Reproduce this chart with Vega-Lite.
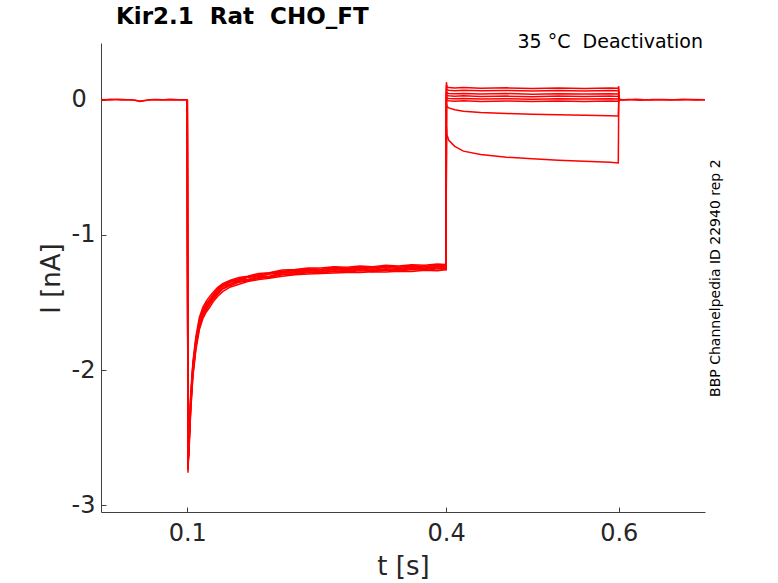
{
"$schema": "https://vega.github.io/schema/vega-lite/v6.json",
"width": 604, "height": 469,
"autosize": {"type": "none"},
"padding": {"left": 101, "top": 43, "right": 73, "bottom": 71},
"background": "white",
"config": {"view": {"stroke": null}, "font": "DejaVu Sans"},
"title": {"text": "Kir2.1\u00a0 Rat\u00a0 CHO_FT", "anchor": "start", "frame": "group", "dx": 15, "offset": -14, "baseline": "alphabetic", "fontSize": 23, "fontWeight": "bold", "color": "#000000", "font": "DejaVu Sans"},
"datasets": {
"traces": [
{"k":"p1","t":0,"i":0.002},{"k":"p1","t":0.01,"i":-0.001},{"k":"p1","t":0.02,"i":0.003},{"k":"p1","t":0.03,"i":0},{"k":"p1","t":0.04,"i":-0.004},{"k":"p1","t":0.045,"i":-0.012},{"k":"p1","t":0.05,"i":-0.005},{"k":"p1","t":0.06,"i":0.002},{"k":"p1","t":0.07,"i":-0.001},{"k":"p1","t":0.08,"i":0.003},{"k":"p1","t":0.09,"i":0},{"k":"p1","t":0.1,"i":0},
{"k":"p2","t":0,"i":-0.002},{"k":"p2","t":0.012,"i":0.003},{"k":"p2","t":0.025,"i":-0.001},{"k":"p2","t":0.035,"i":0.001},{"k":"p2","t":0.042,"i":-0.008},{"k":"p2","t":0.048,"i":-0.01},{"k":"p2","t":0.055,"i":-0.002},{"k":"p2","t":0.065,"i":0.002},{"k":"p2","t":0.075,"i":-0.002},{"k":"p2","t":0.085,"i":0.001},{"k":"p2","t":0.095,"i":-0.001},{"k":"p2","t":0.1,"i":0},
{"k":"q1","t":0.6005,"i":0.005},{"k":"q1","t":0.605,"i":-0.002},{"k":"q1","t":0.62,"i":0.003},{"k":"q1","t":0.635,"i":-0.002},{"k":"q1","t":0.65,"i":0.002},{"k":"q1","t":0.67,"i":-0.002},{"k":"q1","t":0.685,"i":0.002},{"k":"q1","t":0.7,"i":0},
{"k":"q2","t":0.6005,"i":-0.004},{"k":"q2","t":0.61,"i":0.002},{"k":"q2","t":0.625,"i":-0.003},{"k":"q2","t":0.64,"i":0.002},{"k":"q2","t":0.66,"i":-0.001},{"k":"q2","t":0.675,"i":0.003},{"k":"q2","t":0.69,"i":-0.002},{"k":"q2","t":0.7,"i":0.001},

{"k":"1","t":0.1,"i":0},{"k":"1","t":0.1008,"i":-2.76},{"k":"1","t":0.102,"i":-2.55},{"k":"1","t":0.104,"i":-2.25},{"k":"1","t":0.1065,"i":-2.0},{"k":"1","t":0.11,"i":-1.81},{"k":"1","t":0.114,"i":-1.66},{"k":"1","t":0.118,"i":-1.59},{"k":"1","t":0.122,"i":-1.53},{"k":"1","t":0.126,"i":-1.5},{"k":"1","t":0.13,"i":-1.46},{"k":"1","t":0.135,"i":-1.425},{"k":"1","t":0.141,"i":-1.38},{"k":"1","t":0.15,"i":-1.365},{"k":"1","t":0.16,"i":-1.335},{"k":"1","t":0.17,"i":-1.33},{"k":"1","t":0.183,"i":-1.305},{"k":"1","t":0.195,"i":-1.305},{"k":"1","t":0.21,"i":-1.28},{"k":"1","t":0.225,"i":-1.28},{"k":"1","t":0.24,"i":-1.265},{"k":"1","t":0.255,"i":-1.27},{"k":"1","t":0.27,"i":-1.255},{"k":"1","t":0.285,"i":-1.265},{"k":"1","t":0.3,"i":-1.25},{"k":"1","t":0.315,"i":-1.262},{"k":"1","t":0.33,"i":-1.25},{"k":"1","t":0.345,"i":-1.258},{"k":"1","t":0.36,"i":-1.242},{"k":"1","t":0.375,"i":-1.25},{"k":"1","t":0.39,"i":-1.236},{"k":"1","t":0.399,"i":-1.245},{"k":"1","t":0.4,"i":-1.245},
{"k":"1","t":0.4003,"i":0.13},{"k":"1","t":0.401,"i":0.095},{"k":"1","t":0.403,"i":0.09},{"k":"1","t":0.41,"i":0.087},{"k":"1","t":0.42,"i":0.09},{"k":"1","t":0.44,"i":0.085},{"k":"1","t":0.47,"i":0.088},{"k":"1","t":0.5,"i":0.083},{"k":"1","t":0.53,"i":0.087},{"k":"1","t":0.56,"i":0.084},{"k":"1","t":0.59,"i":0.087},{"k":"1","t":0.5995,"i":0.085},{"k":"1","t":0.6,"i":0.1},{"k":"1","t":0.6005,"i":0.004},

{"k":"2","t":0.1,"i":0},{"k":"2","t":0.1008,"i":-2.72},{"k":"2","t":0.102,"i":-2.5},{"k":"2","t":0.104,"i":-2.2},{"k":"2","t":0.1065,"i":-1.96},{"k":"2","t":0.11,"i":-1.77},{"k":"2","t":0.114,"i":-1.63},{"k":"2","t":0.118,"i":-1.555},{"k":"2","t":0.122,"i":-1.505},{"k":"2","t":0.126,"i":-1.475},{"k":"2","t":0.13,"i":-1.44},{"k":"2","t":0.135,"i":-1.405},{"k":"2","t":0.141,"i":-1.37},{"k":"2","t":0.15,"i":-1.345},{"k":"2","t":0.16,"i":-1.33},{"k":"2","t":0.17,"i":-1.31},{"k":"2","t":0.183,"i":-1.3},{"k":"2","t":0.195,"i":-1.29},{"k":"2","t":0.21,"i":-1.27},{"k":"2","t":0.225,"i":-1.265},{"k":"2","t":0.24,"i":-1.255},{"k":"2","t":0.255,"i":-1.255},{"k":"2","t":0.27,"i":-1.245},{"k":"2","t":0.285,"i":-1.25},{"k":"2","t":0.3,"i":-1.24},{"k":"2","t":0.315,"i":-1.245},{"k":"2","t":0.33,"i":-1.235},{"k":"2","t":0.345,"i":-1.24},{"k":"2","t":0.36,"i":-1.232},{"k":"2","t":0.375,"i":-1.235},{"k":"2","t":0.39,"i":-1.225},{"k":"2","t":0.399,"i":-1.228},{"k":"2","t":0.4,"i":-1.228},
{"k":"2","t":0.4003,"i":0.11},{"k":"2","t":0.401,"i":0.074},{"k":"2","t":0.403,"i":0.07},{"k":"2","t":0.41,"i":0.067},{"k":"2","t":0.42,"i":0.07},{"k":"2","t":0.44,"i":0.066},{"k":"2","t":0.47,"i":0.069},{"k":"2","t":0.5,"i":0.064},{"k":"2","t":0.53,"i":0.068},{"k":"2","t":0.56,"i":0.065},{"k":"2","t":0.59,"i":0.068},{"k":"2","t":0.5995,"i":0.066},{"k":"2","t":0.6,"i":0.08},{"k":"2","t":0.6005,"i":-0.002},

{"k":"3","t":0.1,"i":0},{"k":"3","t":0.1008,"i":-2.7},{"k":"3","t":0.102,"i":-2.58},{"k":"3","t":0.104,"i":-2.28},{"k":"3","t":0.1065,"i":-2.03},{"k":"3","t":0.11,"i":-1.83},{"k":"3","t":0.114,"i":-1.69},{"k":"3","t":0.118,"i":-1.6},{"k":"3","t":0.122,"i":-1.555},{"k":"3","t":0.126,"i":-1.515},{"k":"3","t":0.13,"i":-1.48},{"k":"3","t":0.135,"i":-1.44},{"k":"3","t":0.141,"i":-1.4},{"k":"3","t":0.15,"i":-1.375},{"k":"3","t":0.16,"i":-1.35},{"k":"3","t":0.17,"i":-1.34},{"k":"3","t":0.183,"i":-1.32},{"k":"3","t":0.195,"i":-1.315},{"k":"3","t":0.21,"i":-1.295},{"k":"3","t":0.225,"i":-1.29},{"k":"3","t":0.24,"i":-1.28},{"k":"3","t":0.255,"i":-1.28},{"k":"3","t":0.27,"i":-1.27},{"k":"3","t":0.285,"i":-1.275},{"k":"3","t":0.3,"i":-1.265},{"k":"3","t":0.315,"i":-1.27},{"k":"3","t":0.33,"i":-1.262},{"k":"3","t":0.345,"i":-1.268},{"k":"3","t":0.36,"i":-1.255},{"k":"3","t":0.375,"i":-1.262},{"k":"3","t":0.39,"i":-1.25},{"k":"3","t":0.399,"i":-1.255},{"k":"3","t":0.4,"i":-1.255},
{"k":"3","t":0.4003,"i":0.085},{"k":"3","t":0.401,"i":0.05},{"k":"3","t":0.403,"i":0.047},{"k":"3","t":0.41,"i":0.044},{"k":"3","t":0.42,"i":0.047},{"k":"3","t":0.44,"i":0.043},{"k":"3","t":0.47,"i":0.046},{"k":"3","t":0.5,"i":0.041},{"k":"3","t":0.53,"i":0.045},{"k":"3","t":0.56,"i":0.042},{"k":"3","t":0.59,"i":0.045},{"k":"3","t":0.5995,"i":0.043},{"k":"3","t":0.6,"i":0.06},{"k":"3","t":0.6005,"i":0.003},

{"k":"4","t":0.1,"i":0},{"k":"4","t":0.1008,"i":-2.74},{"k":"4","t":0.102,"i":-2.48},{"k":"4","t":0.104,"i":-2.17},{"k":"4","t":0.1065,"i":-1.94},{"k":"4","t":0.11,"i":-1.75},{"k":"4","t":0.114,"i":-1.61},{"k":"4","t":0.118,"i":-1.535},{"k":"4","t":0.122,"i":-1.49},{"k":"4","t":0.126,"i":-1.455},{"k":"4","t":0.13,"i":-1.425},{"k":"4","t":0.135,"i":-1.39},{"k":"4","t":0.141,"i":-1.36},{"k":"4","t":0.15,"i":-1.335},{"k":"4","t":0.16,"i":-1.315},{"k":"4","t":0.17,"i":-1.305},{"k":"4","t":0.183,"i":-1.285},{"k":"4","t":0.195,"i":-1.28},{"k":"4","t":0.21,"i":-1.26},{"k":"4","t":0.225,"i":-1.255},{"k":"4","t":0.24,"i":-1.245},{"k":"4","t":0.255,"i":-1.245},{"k":"4","t":0.27,"i":-1.235},{"k":"4","t":0.285,"i":-1.24},{"k":"4","t":0.3,"i":-1.23},{"k":"4","t":0.315,"i":-1.235},{"k":"4","t":0.33,"i":-1.225},{"k":"4","t":0.345,"i":-1.23},{"k":"4","t":0.36,"i":-1.22},{"k":"4","t":0.375,"i":-1.225},{"k":"4","t":0.39,"i":-1.215},{"k":"4","t":0.399,"i":-1.218},{"k":"4","t":0.4,"i":-1.218},
{"k":"4","t":0.4003,"i":0.06},{"k":"4","t":0.401,"i":0.031},{"k":"4","t":0.403,"i":0.029},{"k":"4","t":0.41,"i":0.026},{"k":"4","t":0.42,"i":0.029},{"k":"4","t":0.44,"i":0.024},{"k":"4","t":0.47,"i":0.027},{"k":"4","t":0.5,"i":0.023},{"k":"4","t":0.53,"i":0.027},{"k":"4","t":0.56,"i":0.024},{"k":"4","t":0.59,"i":0.027},{"k":"4","t":0.5995,"i":0.025},{"k":"4","t":0.6,"i":0.04},{"k":"4","t":0.6005,"i":-0.003},

{"k":"5","t":0.1,"i":0},{"k":"5","t":0.1008,"i":-2.68},{"k":"5","t":0.102,"i":-2.6},{"k":"5","t":0.104,"i":-2.3},{"k":"5","t":0.1065,"i":-2.05},{"k":"5","t":0.11,"i":-1.85},{"k":"5","t":0.114,"i":-1.7},{"k":"5","t":0.118,"i":-1.62},{"k":"5","t":0.122,"i":-1.57},{"k":"5","t":0.126,"i":-1.535},{"k":"5","t":0.13,"i":-1.495},{"k":"5","t":0.135,"i":-1.455},{"k":"5","t":0.141,"i":-1.42},{"k":"5","t":0.15,"i":-1.385},{"k":"5","t":0.16,"i":-1.365},{"k":"5","t":0.17,"i":-1.345},{"k":"5","t":0.183,"i":-1.33},{"k":"5","t":0.195,"i":-1.32},{"k":"5","t":0.21,"i":-1.305},{"k":"5","t":0.225,"i":-1.295},{"k":"5","t":0.24,"i":-1.29},{"k":"5","t":0.255,"i":-1.285},{"k":"5","t":0.27,"i":-1.282},{"k":"5","t":0.285,"i":-1.278},{"k":"5","t":0.3,"i":-1.278},{"k":"5","t":0.315,"i":-1.272},{"k":"5","t":0.33,"i":-1.275},{"k":"5","t":0.345,"i":-1.268},{"k":"5","t":0.36,"i":-1.27},{"k":"5","t":0.375,"i":-1.262},{"k":"5","t":0.39,"i":-1.265},{"k":"5","t":0.399,"i":-1.258},{"k":"5","t":0.4,"i":-1.258},
{"k":"5","t":0.4003,"i":0.04},{"k":"5","t":0.401,"i":0.012},{"k":"5","t":0.403,"i":0.01},{"k":"5","t":0.41,"i":0.007},{"k":"5","t":0.42,"i":0.01},{"k":"5","t":0.44,"i":0.005},{"k":"5","t":0.47,"i":0.008},{"k":"5","t":0.5,"i":0.004},{"k":"5","t":0.53,"i":0.008},{"k":"5","t":0.56,"i":0.005},{"k":"5","t":0.59,"i":0.008},{"k":"5","t":0.5995,"i":0.006},{"k":"5","t":0.6,"i":0.02},{"k":"5","t":0.6005,"i":0.002},

{"k":"6","t":0.1,"i":0},{"k":"6","t":0.1008,"i":-2.71},{"k":"6","t":0.102,"i":-2.53},{"k":"6","t":0.104,"i":-2.23},{"k":"6","t":0.1065,"i":-1.98},{"k":"6","t":0.11,"i":-1.79},{"k":"6","t":0.114,"i":-1.645},{"k":"6","t":0.118,"i":-1.57},{"k":"6","t":0.122,"i":-1.52},{"k":"6","t":0.126,"i":-1.485},{"k":"6","t":0.13,"i":-1.45},{"k":"6","t":0.135,"i":-1.41},{"k":"6","t":0.141,"i":-1.38},{"k":"6","t":0.15,"i":-1.35},{"k":"6","t":0.16,"i":-1.335},{"k":"6","t":0.17,"i":-1.315},{"k":"6","t":0.183,"i":-1.305},{"k":"6","t":0.195,"i":-1.29},{"k":"6","t":0.21,"i":-1.28},{"k":"6","t":0.225,"i":-1.272},{"k":"6","t":0.24,"i":-1.262},{"k":"6","t":0.255,"i":-1.266},{"k":"6","t":0.27,"i":-1.25},{"k":"6","t":0.285,"i":-1.258},{"k":"6","t":0.3,"i":-1.246},{"k":"6","t":0.315,"i":-1.254},{"k":"6","t":0.33,"i":-1.24},{"k":"6","t":0.345,"i":-1.25},{"k":"6","t":0.36,"i":-1.236},{"k":"6","t":0.375,"i":-1.244},{"k":"6","t":0.39,"i":-1.232},{"k":"6","t":0.399,"i":-1.238},{"k":"6","t":0.4,"i":-1.238},
{"k":"6","t":0.4003,"i":0.02},{"k":"6","t":0.401,"i":-0.006},{"k":"6","t":0.403,"i":-0.008},{"k":"6","t":0.41,"i":-0.011},{"k":"6","t":0.42,"i":-0.008},{"k":"6","t":0.44,"i":-0.012},{"k":"6","t":0.47,"i":-0.009},{"k":"6","t":0.5,"i":-0.013},{"k":"6","t":0.53,"i":-0.01},{"k":"6","t":0.56,"i":-0.012},{"k":"6","t":0.59,"i":-0.009},{"k":"6","t":0.5995,"i":-0.011},{"k":"6","t":0.6,"i":0.01},{"k":"6","t":0.6005,"i":-0.001},

{"k":"7","t":0.1,"i":0},{"k":"7","t":0.1008,"i":-2.73},{"k":"7","t":0.102,"i":-2.56},{"k":"7","t":0.104,"i":-2.26},{"k":"7","t":0.1065,"i":-2.02},{"k":"7","t":0.11,"i":-1.82},{"k":"7","t":0.114,"i":-1.675},{"k":"7","t":0.118,"i":-1.59},{"k":"7","t":0.122,"i":-1.545},{"k":"7","t":0.126,"i":-1.505},{"k":"7","t":0.13,"i":-1.47},{"k":"7","t":0.135,"i":-1.43},{"k":"7","t":0.141,"i":-1.395},{"k":"7","t":0.15,"i":-1.365},{"k":"7","t":0.16,"i":-1.345},{"k":"7","t":0.17,"i":-1.335},{"k":"7","t":0.183,"i":-1.315},{"k":"7","t":0.195,"i":-1.31},{"k":"7","t":0.21,"i":-1.29},{"k":"7","t":0.225,"i":-1.288},{"k":"7","t":0.24,"i":-1.272},{"k":"7","t":0.255,"i":-1.28},{"k":"7","t":0.27,"i":-1.265},{"k":"7","t":0.285,"i":-1.272},{"k":"7","t":0.3,"i":-1.258},{"k":"7","t":0.315,"i":-1.266},{"k":"7","t":0.33,"i":-1.254},{"k":"7","t":0.345,"i":-1.262},{"k":"7","t":0.36,"i":-1.248},{"k":"7","t":0.375,"i":-1.256},{"k":"7","t":0.39,"i":-1.244},{"k":"7","t":0.399,"i":-1.25},{"k":"7","t":0.4,"i":-1.25},
{"k":"7","t":0.4003,"i":-0.03},{"k":"7","t":0.401,"i":-0.05},{"k":"7","t":0.403,"i":-0.06},{"k":"7","t":0.41,"i":-0.074},{"k":"7","t":0.42,"i":-0.085},{"k":"7","t":0.44,"i":-0.094},{"k":"7","t":0.47,"i":-0.102},{"k":"7","t":0.5,"i":-0.107},{"k":"7","t":0.53,"i":-0.111},{"k":"7","t":0.56,"i":-0.115},{"k":"7","t":0.59,"i":-0.118},{"k":"7","t":0.5995,"i":-0.12},{"k":"7","t":0.6,"i":-0.02},{"k":"7","t":0.6005,"i":0.001},

{"k":"8","t":0.1,"i":0},{"k":"8","t":0.1008,"i":-2.69},{"k":"8","t":0.102,"i":-2.52},{"k":"8","t":0.104,"i":-2.21},{"k":"8","t":0.1065,"i":-1.97},{"k":"8","t":0.11,"i":-1.78},{"k":"8","t":0.114,"i":-1.64},{"k":"8","t":0.118,"i":-1.56},{"k":"8","t":0.122,"i":-1.51},{"k":"8","t":0.126,"i":-1.48},{"k":"8","t":0.13,"i":-1.445},{"k":"8","t":0.135,"i":-1.4},{"k":"8","t":0.141,"i":-1.368},{"k":"8","t":0.15,"i":-1.34},{"k":"8","t":0.16,"i":-1.325},{"k":"8","t":0.17,"i":-1.31},{"k":"8","t":0.183,"i":-1.295},{"k":"8","t":0.195,"i":-1.282},{"k":"8","t":0.21,"i":-1.268},{"k":"8","t":0.225,"i":-1.262},{"k":"8","t":0.24,"i":-1.25},{"k":"8","t":0.255,"i":-1.256},{"k":"8","t":0.27,"i":-1.24},{"k":"8","t":0.285,"i":-1.248},{"k":"8","t":0.3,"i":-1.236},{"k":"8","t":0.315,"i":-1.244},{"k":"8","t":0.33,"i":-1.23},{"k":"8","t":0.345,"i":-1.24},{"k":"8","t":0.36,"i":-1.226},{"k":"8","t":0.375,"i":-1.234},{"k":"8","t":0.39,"i":-1.222},{"k":"8","t":0.399,"i":-1.228},{"k":"8","t":0.4,"i":-1.228},
{"k":"8","t":0.4003,"i":-0.2},{"k":"8","t":0.401,"i":-0.26},{"k":"8","t":0.403,"i":-0.3},{"k":"8","t":0.41,"i":-0.345},{"k":"8","t":0.42,"i":-0.38},{"k":"8","t":0.44,"i":-0.405},{"k":"8","t":0.47,"i":-0.425},{"k":"8","t":0.5,"i":-0.437},{"k":"8","t":0.53,"i":-0.447},{"k":"8","t":0.56,"i":-0.455},{"k":"8","t":0.59,"i":-0.463},{"k":"8","t":0.5995,"i":-0.468},{"k":"8","t":0.6,"i":-0.025},{"k":"8","t":0.6005,"i":-0.002}
],
"notes": [{"s": "35 °C\u00a0 Deactivation", "t": 0.7, "i": 0.42}],
"side": [{"s": "BBP Channelpedia ID 22940 rep 2", "t": 0.7, "i": -1.32}]
},
"layer": [
{
"data": {"name": "traces"},
"mark": {"type": "line", "color": "#ff0000", "strokeWidth": 1.5},
"encoding": {
"x": {"field": "t", "type": "quantitative", "scale": {"domain": [0, 0.7], "nice": false, "zero": false},
"axis": {"values": [0.1, 0.4, 0.6], "format": ".1f", "title": "t [s]", "grid": false, "tickSize": -5, "labelPadding": 14, "labelFontSize": 24, "labelColor": "#262626", "labelFont": "DejaVu Sans", "titleFont": "DejaVu Sans", "titleFontSize": 26, "titleFontWeight": "normal", "titleColor": "#262626", "titleBaseline": "alphabetic", "titleY": 62, "domainColor": "#404040", "tickColor": "#404040", "domainWidth": 1, "tickWidth": 1, "labelFlush": false}},
"y": {"field": "i", "type": "quantitative", "scale": {"domain": [-3.05, 0.42], "nice": false, "zero": false},
"axis": {"values": [-3, -2, -1, 0], "labelExpr": "datum.value == 0 ? '0' : '-' + abs(datum.value)", "labelAlign": "left", "title": "I [nA]", "grid": false, "tickSize": -5, "labelPadding": 35, "labelFontSize": 24, "labelColor": "#262626", "labelFont": "DejaVu Sans", "titleFont": "DejaVu Sans", "titleFontSize": 26, "titleFontWeight": "normal", "titleColor": "#262626", "titleAngle": 270, "titleBaseline": "middle", "titleX": -50, "titleY": 235, "domainColor": "#404040", "tickColor": "#404040", "domainWidth": 1, "tickWidth": 1, "labelFlush": false}},
"detail": {"field": "k", "type": "nominal"},
"order": {"field": "t", "type": "quantitative"}
}
},
{
"data": {"name": "notes"},
"mark": {"type": "text", "align": "right", "baseline": "alphabetic", "fontSize": 19, "dy": 5, "dx": -2, "color": "#000000", "font": "DejaVu Sans"},
"encoding": {"x": {"field": "t", "type": "quantitative"}, "y": {"field": "i", "type": "quantitative"}, "text": {"field": "s"}}
},
{
"data": {"name": "side"},
"mark": {"type": "text", "angle": 270, "align": "center", "baseline": "middle", "fontSize": 14, "dy": 11, "color": "#000000", "font": "DejaVu Sans"},
"encoding": {"x": {"field": "t", "type": "quantitative"}, "y": {"field": "i", "type": "quantitative"}, "text": {"field": "s"}}
}
]
}
